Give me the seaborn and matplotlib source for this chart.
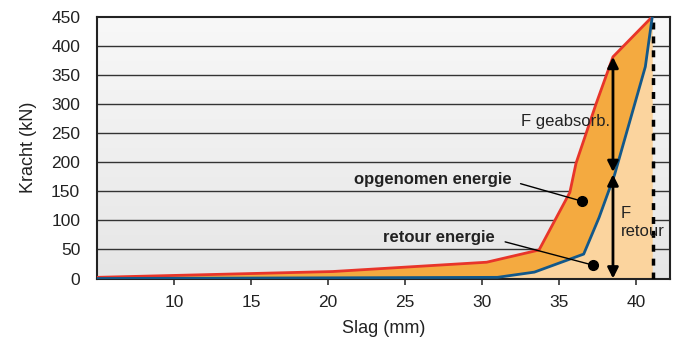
import numpy as np
import pandas as pd
import seaborn as sns
import matplotlib.pyplot as plt
from matplotlib import font_manager

# slag (mm) / kracht (kN)
slag_in = [5.0, 20.3, 30.3, 33.7, 35.7, 36.1, 37.4, 38.5, 41.05]
kracht_in = [2, 12, 28, 49, 148, 198, 300, 381, 450]
slag_uit = [5.0, 31.0, 33.4, 36.6, 37.6, 38.6, 40.6, 41.05]
kracht_uit = [0, 2, 11, 42, 105, 178, 364, 450]

x_ticks = [10, 15, 20, 25, 30, 35, 40]
y_ticks = [0, 50, 100, 150, 200, 250, 300, 350, 400, 450]
slag_max = 41.1
arrow_x = 38.5
arrow_top, arrow_mid, arrow_bot = 381, 181, 0

sns.set_theme(style="white")
names = {f.name for f in font_manager.fontManager.ttflist}
fam = "Liberation Sans Narrow" if "Liberation Sans Narrow" in names else "Liberation Sans"
plt.rcParams["font.family"] = [fam, "DejaVu Sans"]

df_in = pd.DataFrame({"slag": slag_in, "kracht": kracht_in})
df_uit = pd.DataFrame({"slag": slag_uit, "kracht": kracht_uit})

fig = plt.figure(figsize=(6.73, 3.38), dpi=100)
ax = fig.add_axes([0.144, 0.176, 0.8515, 0.7746])
ax.set_xlim(5, 42.2)
ax.set_ylim(0, 450)

# grey gradient background
grad = np.linspace(0, 1, 256).reshape(-1, 1)
ax.imshow(grad, extent=[5, 42.2, 0, 450], aspect="auto", origin="upper",
          cmap=plt.matplotlib.colors.LinearSegmentedColormap.from_list(
              "bg", ["#f8f8f8", "#e6e6e6"]), zorder=0)
for y in y_ticks[1:-1]:
    ax.axhline(y, color="#333333", lw=1.0, zorder=1)

ax.fill_between(slag_uit, 0, kracht_uit, color="#fbd49e", lw=0, zorder=2)
ax.fill(slag_in + slag_uit[::-1], kracht_in + kracht_uit[::-1],
        color="#f4aa40", lw=0, zorder=2)

sns.lineplot(data=df_in, x="slag", y="kracht", color="#e8352a", lw=2,
             estimator=None, ax=ax, zorder=4)
sns.lineplot(data=df_uit, x="slag", y="kracht", color="#12588a", lw=2,
             estimator=None, ax=ax, zorder=4)

ax.plot([slag_max, slag_max], [0, 450], color="black", lw=2.5,
        ls=(0, (2, 2)), zorder=3)

arr = dict(arrowstyle="<|-|>", color="black", lw=2, mutation_scale=16,
           shrinkA=0, shrinkB=0)
ax.annotate("", xy=(arrow_x, arrow_top), xytext=(arrow_x, arrow_mid + 2),
            arrowprops=arr, zorder=5)
ax.annotate("", xy=(arrow_x, arrow_mid - 2), xytext=(arrow_x, arrow_bot),
            arrowprops=arr, zorder=5)

ax.text(38.3, 270, "F geabsorb.", ha="right", va="center", fontsize=12,
        color="#222222", zorder=6)
ax.text(39.0, 112, "F", ha="left", va="center", fontsize=12, color="#222222", zorder=6)
ax.text(39.0, 80, "retour", ha="left", va="center", fontsize=12, color="#222222", zorder=6)

ax.plot([32.5, 36.47], [163, 133], color="black", lw=1, zorder=5)
ax.plot([31.5, 37.2], [63, 23], color="black", lw=1, zorder=5)
ax.plot([36.47, 37.2], [133, 23], "o", color="black", ms=7, zorder=6)
ax.text(26.8, 171, "opgenomen energie", ha="center", va="center", fontsize=12,
        fontweight="bold", color="#222222", zorder=6)
ax.text(27.2, 71, "retour energie", ha="center", va="center", fontsize=12,
        fontweight="bold", color="#222222", zorder=6)

ax.set_xticks(x_ticks)
ax.set_yticks(y_ticks)
ax.tick_params(axis="x", length=4, width=1.2, color="#333333", pad=8,
               labelsize=12.5, labelcolor="#222222", bottom=True)
ax.tick_params(axis="y", length=0, pad=12, labelsize=12.5, labelcolor="#222222")
for s in ax.spines.values():
    s.set_color("#222222")
    s.set_linewidth(1.5)
ax.set_xlabel("Slag (mm)", fontsize=13, labelpad=7, color="#222222")
ax.set_ylabel("Kracht (kN)", fontsize=13, labelpad=10, color="#222222")

fig.savefig("out.png", dpi=100)
